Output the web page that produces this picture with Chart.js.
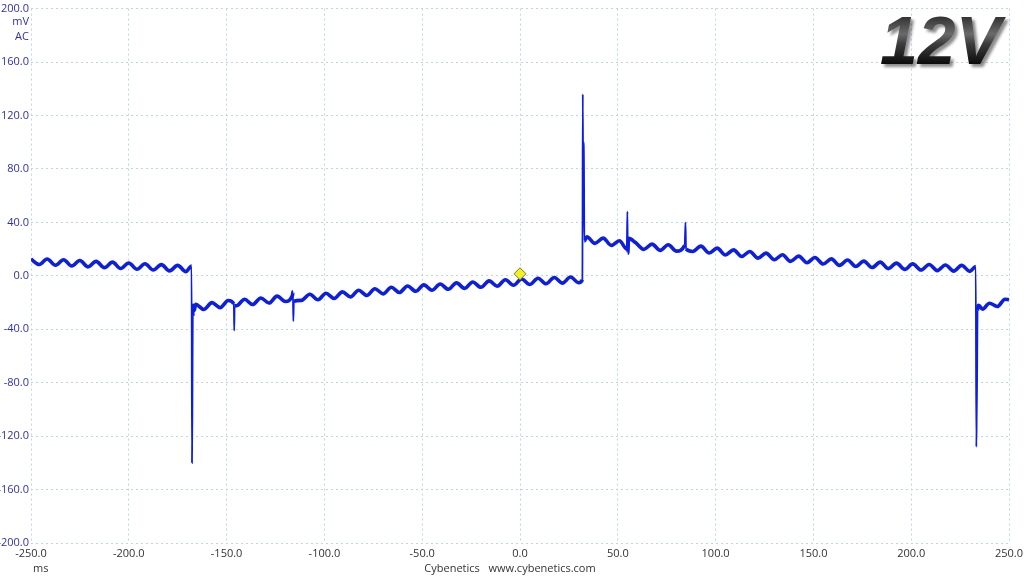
<!DOCTYPE html>
<html>
<head>
<meta charset="utf-8">
<script src="https://cdn.jsdelivr.net/npm/chart.js@4.4.1/dist/chart.umd.min.js"></script>
<style>
  html, body { margin: 0; padding: 0; background: #fff; }
  #wrap { width: 1024px; height: 576px; position: relative; }
</style>
</head>
<body>
<div id="wrap"><canvas id="scope" width="1024" height="576"></canvas></div>
<script>
// Trace (time in ms, ripple in mV)
const traceX = [
  -250, -245.8, -241.7, -237.5, -233.3, -229.2, -225, -220.8, -216.7, -212.5, -208.3, -204.2, -200, -195.8,
  -191.7, -187.5, -183.3, -179.2, -175, -170.8, -167.9,
  -167.7, -167.5, -167.3, -167.1, -166.6,
  -165.8, -161.7, -157.5, -153.3, -149.2, -146.3, -146.1, -145.9, -145, -140.8, -136.7, -132.5, -128.3,
  -124.2, -120, -116.3, -116.1, -115.9, -115.6, -111.7, -107.5, -103.3, -99.2, -95, -90.8, -86.7, -82.5,
  -78.3, -74.2, -70, -65.8, -61.7, -57.5, -53.3, -49.2, -45, -40.8, -36.7, -32.5, -28.3, -24.2, -20,
  -15.8, -11.7, -7.5, -3.3, 0.8, 5, 9.2, 13.3, 17.5, 21.7, 25.8, 30, 31.9,
  32.1, 32.3, 32.5, 32.7, 32.9,
  34.2, 38.3, 42.5, 46.7, 50.8, 54.6, 54.9, 55.1, 55.5, 59.2, 63.3, 67.5, 71.7, 75.8, 80, 84.2, 84.6,
  84.9, 88.3, 92.5, 96.7, 100.8, 105, 109.2, 113.3, 117.5, 121.7, 125.8, 130, 134.2, 138.3, 142.5, 146.7,
  150.8, 155, 159.2, 163.3, 167.5, 171.7, 175.8, 180, 184.2, 188.3, 192.5, 196.7, 200.8, 205, 209.2,
  213.3, 217.5, 221.7, 225.8, 230, 233,
  233.3, 233.5, 233.7, 233.9, 234.5,
  236.5, 240, 244, 248, 250
];
const traceY = [
  12.5, 8.5, 12.6, 7.9, 12, 7.3, 11.4, 6.7, 10.8, 6.1, 10.2, 5.5, 9.6, 4.9,
  9, 4.3, 8.4, 3.7, 7.8, 3.1, 7.3,
  -140, -104, -30, -22, -26,
  -21.3, -25.2, -20.1, -23.8, -18.5, -21, -41, -22.5, -22.4, -17.6, -21.5, -16.6, -20.4,
  -15.2, -19.2, -14.5, -12, -34, -19, -18.4, -13.8, -17.9, -13.1, -17, -12, -15.8, -10.8,
  -14.7, -9.7, -13.5, -8.6, -12.5, -7.6, -11.6, -6.8, -10.8, -6.1, -10.1, -5.3, -9.4, -4.6, -8.6,
  -3.8, -7.8, -3, -7.1, -2.4, -6.5, -1.8, -6, -1.3, -5.5, -0.9, -5.2, -3,
  136, 60, 100, 85, 26,
  29.2, 24.3, 28.2, 22.8, 26.2, 20, 48, 17, 28, 24.7, 19.8, 23.7, 19, 23.2, 18.5, 22.8, 40,
  20, 18.2, 22.2, 17.1, 20.7, 15.6, 19.4, 14.4, 18.2, 13.2, 17, 12, 15.8, 10.8, 14.7, 9.8,
  13.7, 8.8, 12.7, 7.8, 11.8, 7, 11, 6.2, 10.2, 5.4, 9.5, 4.8, 8.9, 4.3, 8.5,
  3.9, 8.1, 3.5, 7.8, 3.3, 7,
  -128, -102, -75, -26, -22,
  -25, -20.5, -23, -17.5, -18
];

// Trigger marker
const triggerX = [0];
const triggerY = [1.5];

// Axes
const xMin = -250, xMax = 250, xStep = 50;
const yMin = -200, yMax = 200, yStep = 40;

const gridColor = '#b9d8e6';

const decorations = {
  id: 'decorations',
  afterDraw(chart) {
    const c = chart.ctx;
    c.save();
    // unit labels under the top y tick
    c.font = '11px "Open Sans", "DejaVu Sans", sans-serif';
    c.fillStyle = '#2f2fb0';
    c.textAlign = 'right';
    c.textBaseline = 'middle';
    c.fillText('mV', 29, 22);
    c.fillText('AC', 29, 37);

    c.fillStyle = '#333';
    c.textAlign = 'left';
    c.fillText('ms', 33, 569);
    c.textAlign = 'center';
    c.fillText('Cybenetics   www.cybenetics.com', 510, 569);

    // big rail label
    c.font = 'italic bold 68px "Liberation Sans", Arial, sans-serif';
    c.textAlign = 'left';
    c.textBaseline = 'alphabetic';
    const g = c.createLinearGradient(0, 14, 0, 64);
    g.addColorStop(0, '#2a2a2a');
    g.addColorStop(0.4, '#6a6a6a');
    g.addColorStop(0.6, '#3c3c3c');
    g.addColorStop(1, '#0c0c0c');
    c.shadowColor = 'rgba(0,0,0,0.45)';
    c.shadowOffsetX = 3;
    c.shadowOffsetY = 3;
    c.shadowBlur = 3;
    c.fillStyle = g;
    c.fillText('12V', 880, 64);
    c.restore();
  }
};

// thin pen for the fast edges, thick for the noisy ripple
const segWidth = s => Math.abs(s.p1.parsed.y - s.p0.parsed.y) > 14 ? 1.8 : 3.6;

const ctx = document.getElementById('scope').getContext('2d');
new Chart(ctx, {
  type: 'line',
  data: {
    datasets: [
      {
        label: 'trigger',
        data: triggerX.map((x, i) => ({ x, y: triggerY[i] })),
        showLine: false,
        pointStyle: 'rectRot',
        pointRadius: 6,
        backgroundColor: '#f4f21c',
        borderColor: '#7a7a20',
        borderWidth: 1,
      },
      {
        label: '12V ripple',
        data: traceX.map((x, i) => ({ x, y: traceY[i] })),
        borderColor: '#0c1ee0',
        borderWidth: 3.6,
        pointRadius: 0,
        cubicInterpolationMode: 'monotone',
        segment: { borderWidth: segWidth },
        fill: false,
      }
    ]
  },
  options: {
    responsive: false,
    animation: false,
    layout: { padding: { top: 8, right: 15, left: 0, bottom: 0 } },
    plugins: {
      legend: { display: false },
      tooltip: { enabled: false },
    },
    scales: {
      x: {
        type: 'linear',
        min: xMin, max: xMax,
        afterFit(s) { s.height = 33; s.paddingRight = 0; s.paddingLeft = 0; },
        ticks: {
          stepSize: xStep,
          autoSkip: false,
          maxRotation: 0,
          padding: 4,
          color: '#333',
          font: { size: 11, family: '"Open Sans", "DejaVu Sans", sans-serif' },
          callback: v => v.toFixed(1),
        },
        grid: { color: gridColor, drawTicks: false },
        border: { display: false, dash: [2, 3] },
      },
      y: {
        min: yMin, max: yMax,
        afterFit(s) { s.width = 31; },
        ticks: {
          stepSize: yStep,
          padding: 2,
          color: '#2f2fb0',
          font: { size: 11, family: '"Open Sans", "DejaVu Sans", sans-serif' },
          callback: v => v.toFixed(1),
        },
        grid: { color: gridColor, drawTicks: false },
        border: { display: false, dash: [2, 3] },
      }
    }
  },
  plugins: [decorations]
});
</script>
</body>
</html>
